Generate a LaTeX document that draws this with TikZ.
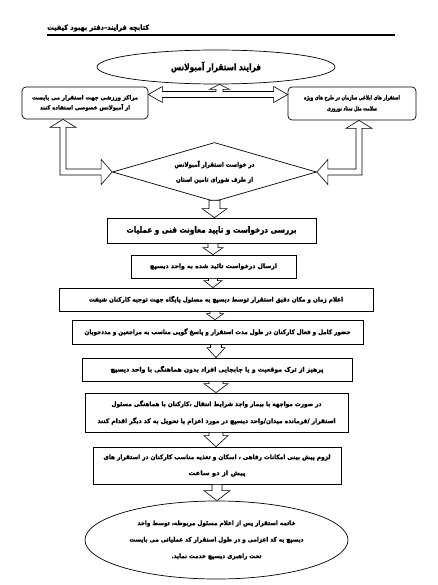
\documentclass[tikz,border=0pt]{standalone}
\usepackage{fontspec}
\usepackage{graphicx}
\usetikzlibrary{shapes.geometric,calc}
\TeXXeTstate=1
\newfontfamily\fa[Script=Arabic,BoldFeatures={FakeBold=1.6}]{DejaVu Sans}
\newcommand{\fw}[2]{\resizebox{#1pt}{\height}{\fa\bfseries #2}}
\newcommand{\darr}[6]{\draw[blk] let \p1=(#1.south), \p2=(#2.north) in
  (#3pt-#4pt,\y1) -- (#3pt+#4pt,\y1) -- (#3pt+#4pt,\y2+#6pt) -- (#3pt+#5pt,\y2+#6pt)
  -- (#3pt,\y2) -- (#3pt-#5pt,\y2+#6pt) -- (#3pt-#4pt,\y2+#6pt) -- cycle;}
\tikzset{
  box/.style={draw, line width=0.7pt, fill=white, inner sep=0pt, align=center},
  blk/.style={draw, line width=0.6pt, fill=white, line join=miter},
}
\begin{document}
\begin{tikzpicture}[x=1pt,y=-1pt]
\useasboundingbox (0,0) rectangle (438,585);
\fill[white] (0,0) rectangle (438,585);

\node[anchor=west, inner sep=0pt, font=\fontsize{7}{8}\selectfont] (hdr) at (47,28) {\fw{102}{\beginR کتابچه فرایند–دفتر بهبود کیفیت\endR}};
\draw[line width=2pt] (47,35.5) -- (395,35.5);

\node[box, ellipse, minimum width=238pt, minimum height=34pt, font=\fontsize{9}{10}\selectfont] (title) at (216,67) {\fw{90}{\beginR فرایند استقرار آمبولانس\endR}};

\node[box, rounded corners=4pt, minimum width=126pt, minimum height=32pt, font=\fontsize{5.8}{10}\selectfont] (lbox) at (85,103) {\fw{106}{\beginR مراکز ورزشی جهت استقرار می بایست\endR}\\\fw{90}{\beginR از آمبولانس خصوصی استفاده کنند\endR}};

\node[box, rounded corners=4pt, minimum width=128pt, minimum height=33pt, font=\fontsize{5.8}{11}\selectfont] (rbox) at (352,103.5) {\fw{96}{\beginR استقرار های ابلاغی سازمان در طرح های ویژه\endR}\\\fw{50}{\beginR سلامت مثل ستاد نوروزی\endR}};

\node[box, diamond, aspect=3.4, minimum width=204pt, minimum height=59pt, font=\fontsize{6.3}{15}\selectfont] (dia) at (214.5,172) {\fw{80}{\beginR در خواست استقرار آمبولانس\endR}\\\fw{77}{\beginR از طرف شورای تامین استان\endR}};

\node[box, minimum width=209pt, minimum height=25pt, font=\fontsize{8.5}{10}\selectfont] (b1) at (211.5,230.5) {\fw{170}{\beginR بررسی درخواست و تایید معاونت فنی و عملیات\endR}};

\node[box, minimum width=165pt, minimum height=23pt, font=\fontsize{6.3}{8}\selectfont] (b2) at (213.5,266.5) {\fw{127}{\beginR ارسال درخواست تائید شده به واحد دیسپچ\endR}};

\node[box, minimum width=314pt, minimum height=23pt, font=\fontsize{6.3}{8}\selectfont] (b3) at (216,299.5) {\fw{254}{\beginR اعلام زمان و مکان دقیق استقرار توسط دیسپچ به مسئول پایگاه جهت توجیه کارکنان شیفت\endR}};

\node[box, minimum width=291pt, minimum height=24pt, font=\fontsize{6.3}{8}\selectfont] (b4) at (217.5,332) {\fw{266}{\beginR حضور کامل و فعال کارکنان در طول مدت استقرار و پاسخ گویی مناسب به مراجعین و مددجویان\endR}};

\node[box, minimum width=270pt, minimum height=23pt, font=\fontsize{6.3}{8}\selectfont] (b5) at (217,369.5) {\fw{213}{\beginR پرهیز از ترک موقعیت و یا جابجایی افراد بدون هماهنگی با واحد دیسپچ\endR}};

\node[box, minimum width=263pt, minimum height=39pt, font=\fontsize{6.3}{17}\selectfont] (b6) at (216.5,412.5) {\fw{210}{\beginR در صورت مواجهه با بیمار واجد شرایط انتقال ،کارکنان با هماهنگی مسئول\endR}\\\fw{238}{\beginR استقرار /فرمانده میدان/واحد دیسپچ در مورد اعزام یا تحویل به کد دیگر اقدام کنند\endR}};

\node[box, minimum width=248pt, minimum height=37pt, font=\fontsize{6.3}{16}\selectfont] (b7) at (217,465.5) {\fw{227}{\beginR لزوم پیش بینی امکانات رفاهی ، اسکان و تغذیه مناسب کارکنان در استقرار های\endR}\\\fw{57}{\beginR پیش از دو ساعت\endR}};

\node[box, ellipse, minimum width=263pt, minimum height=78pt, font=\fontsize{6.3}{16.5}\selectfont] (end) at (216.5,540) {\fw{158}{\beginR خاتمه استقرار پس از اعلام مسئول مربوطه، توسط واحد\endR}\\\fw{174}{\beginR دیسپچ به کد اعزامی و در طول استقرار کد عملیاتی می بایست\endR}\\\fw{90}{\beginR تحت راهبری دیسپچ خدمت نماید.\endR}};

% T-shaped double block arrow between the two top boxes, branch up to title
\draw[blk] let \p1=(lbox.east), \p2=(rbox.west), \p3=(title.south), \n1={\y1+8.5pt}, \n2={\x3+3.5pt} in
  (\x1,\n1) -- (\x1+14pt,\n1+8pt) -- (\x1+14pt,\n1+3pt) -- (\n2-3.5pt,\n1+3pt) -- (\n2-3.5pt,\y3-5pt)
  -- (\n2-10pt,\y3-5pt) -- (\n2,\y3) -- (\n2+10pt,\y3-5pt) -- (\n2+3.5pt,\y3-5pt) -- (\n2+3.5pt,\n1+3pt)
  -- (\x2-14pt,\n1+3pt) -- (\x2-14pt,\n1+8pt) -- (\x2,\n1) -- (\x2-14pt,\n1-8pt) -- (\x2-14pt,\n1-3pt)
  -- (\x1+14pt,\n1-3pt) -- (\x1+14pt,\n1-8pt) -- cycle;

% left L-shaped double block arrow
\draw[blk] let \p1=(lbox.south), \p2=(dia.west), \n1={\x1-22pt} in
  (\n1,\y1) -- (\n1+13pt,\y1-8pt) -- (\n1+3pt,\y1-8pt) -- (\n1+3pt,\y2+3pt) -- (\x2-11pt,\y2+3pt)
  -- (\x2-11pt,\y2+12.5pt) -- (\x2,\y2) -- (\x2-11pt,\y2-12.5pt) -- (\x2-11pt,\y2-3pt)
  -- (\n1-3pt,\y2-3pt) -- (\n1-3pt,\y1-8pt) -- (\n1-13pt,\y1-8pt) -- cycle;

% right L-shaped double block arrow
\draw[blk] let \p1=(rbox.south), \p2=(dia.east), \n1={\x1+7pt} in
  (\n1,\y1) -- (\n1+13pt,\y1-8pt) -- (\n1+3pt,\y1-8pt) -- (\n1+3pt,\y2-3pt) -- (\x2+11pt,\y2-3pt)
  -- (\x2+11pt,\y2-12.5pt) -- (\x2,\y2) -- (\x2+11pt,\y2+12.5pt) -- (\x2+11pt,\y2+3pt)
  -- (\n1-3pt,\y2+3pt) -- (\n1-3pt,\y1-8pt) -- (\n1-13pt,\y1-8pt) -- cycle;

% diamond to b1
\draw[blk] let \p1=(dia.south), \p2=(b1.north) in
  (\x1-5.5pt,\y1+1.6pt) -- (\x1+5.5pt,\y1+1.6pt) -- (\x1+5.5pt,\y2+9pt) -- (\x1+12.5pt,\y2+9pt)
  -- (\x1,\y2) -- (\x1-12.5pt,\y2+9pt) -- (\x1-5.5pt,\y2+9pt) -- cycle;

\darr{b1}{b2}{213}{5}{10}{7}
\darr{b2}{b3}{213}{4.5}{9}{7}
\darr{b3}{b4}{215}{5}{8.5}{6}
\darr{b4}{b5}{216}{5.5}{9}{10}
\darr{b5}{b6}{216}{7}{12}{9}
\darr{b6}{b7}{216}{7}{12}{11}
\darr{b7}{end}{217}{5}{13}{10}
\end{tikzpicture}
\end{document}
